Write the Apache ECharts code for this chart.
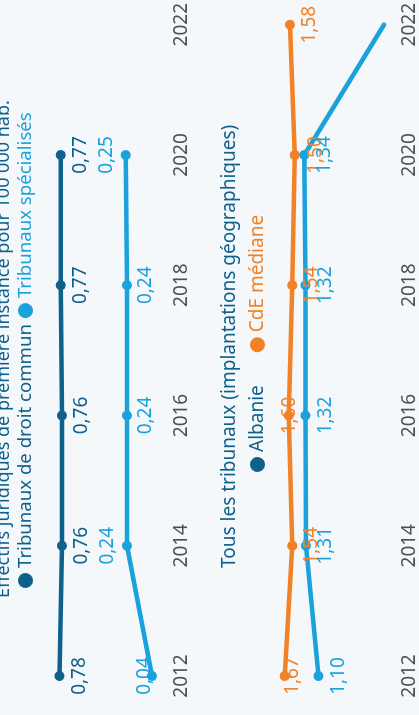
<!DOCTYPE html>
<html>
<head>
<meta charset="utf-8">
<script src="https://cdn.jsdelivr.net/npm/echarts@6/dist/echarts.min.js"></script>
<style>
html,body{margin:0;padding:0;background:#f4f8fa;overflow:hidden;}
#wrap{position:absolute;left:0;top:0;width:419px;height:715px;overflow:hidden;background:#f4f8fa;}
#chart{position:absolute;left:0;top:0;width:715px;height:419px;transform-origin:0 0;transform:translate(0px,715px) rotate(-90deg);}
</style>
</head>
<body>
<div id="wrap"><div id="chart"></div></div>
<script>
// ---- data ----
const years = ['2012', '2014', '2016', '2018', '2020', '2022'];
const droitCommun = [0.78, 0.76, 0.76, 0.77, 0.77, null];
const specialises = [0.04, 0.24, 0.24, 0.24, 0.25, null];
const albanie = [1.10, 1.31, 1.32, 1.32, 1.34, 0];
const cdeMediane = [1.67, 1.54, 1.60, 1.54, 1.50, 1.58];
const titleText = 'Effectifs juridiques de première instance pour 100 000 hab.';
const subtitleText = 'Tous les tribunaux (implantations géographiques)';
const legend1 = ['Tribunaux de droit commun', 'Tribunaux spécialisés'];
const legend2 = ['Albanie', 'CdE médiane'];

// ---- styles ----
const DARK = '#10608c';
const LIGHT = '#1ba2dc';
const ORANGE = '#f28227';
const FONT = 'Noto Sans';
const fmt = v => v.toFixed(2).replace('.', ',');

// label vertical shift (px, original orientation) per point
const darkShift = [20, 20, 20, 20, 20, 20];
const lightShift = [-7, -19, 19, 19, -19, 0];
const albShift = [20, 20, 20, 20, 20, 20];
const cdeShift = [7.5, 19, 1, 19, 21, 20];

function makeData(vals, shift, color, hideIdx) {
  return vals.map((v, i) => {
    if (v === null) return null;
    const item = {
      value: v,
      label: { show: true, position: 'inside', offset: [0, shift[i]], color: color,
               fontFamily: FONT, fontSize: 19, formatter: p => fmt(p.value) }
    };
    if (hideIdx !== undefined && hideIdx === i) {
      item.symbol = 'none';
      item.label = { show: false };
    }
    return item;
  });
}

function lineSeries(name, vals, shift, color, idx, hideIdx) {
  return {
    name: name, type: 'line', xAxisIndex: idx, yAxisIndex: idx,
    data: makeData(vals, shift, color, hideIdx),
    symbol: 'circle', symbolSize: 10, showSymbol: true,
    lineStyle: { color: color, width: 4.5, cap: 'round', join: 'round' },
    itemStyle: { color: color },
    emphasis: { disabled: true },
    connectNulls: false,
    animation: false,
    clip: false
  };
}

const chart = echarts.init(document.getElementById('chart'), null, { renderer: 'canvas', width: 715, height: 419 });

const xAxisBase = (idx, margin) => ({
  type: 'category', gridIndex: idx, data: years, boundaryGap: false,
  axisLine: { show: false }, axisTick: { show: false }, splitLine: { show: false },
  axisLabel: { color: '#505050', fontFamily: FONT, fontSize: 19, margin: margin }
});

chart.setOption({
  backgroundColor: '#f4f8fa',
  animation: false,
  title: [
    { text: titleText, left: 112, top: -10,
      textStyle: { color: DARK, fontFamily: FONT, fontSize: 18, fontWeight: 'normal' } },
    { text: subtitleText, left: 142, top: 215,
      textStyle: { color: DARK, fontFamily: FONT, fontSize: 19, fontWeight: 'normal' } }
  ],
  legend: [
    { left: 122, top: 11, icon: 'circle', itemWidth: 15, itemHeight: 15, itemGap: 6,
      selectedMode: false,
      data: [
        { name: legend1[0], itemStyle: { color: DARK }, textStyle: { color: DARK } },
        { name: legend1[1], itemStyle: { color: LIGHT }, textStyle: { color: LIGHT } }
      ],
      textStyle: { fontFamily: FONT, fontSize: 18.6 } },
    { left: 238, top: 243, icon: 'circle', itemWidth: 15, itemHeight: 15, itemGap: 33,
      selectedMode: false,
      data: [
        { name: legend2[0], itemStyle: { color: DARK }, textStyle: { color: DARK } },
        { name: legend2[1], itemStyle: { color: ORANGE }, textStyle: { color: ORANGE } }
      ],
      textStyle: { fontFamily: FONT, fontSize: 19 } }
  ],
  grid: [
    { left: 39, right: 22.7, top: 32, height: 125 },
    { left: 39, right: 22.7, top: 265, height: 120.5 }
  ],
  xAxis: [xAxisBase(0, 15), xAxisBase(1, 16)],
  yAxis: [
    { type: 'value', gridIndex: 0, min: 0, max: 1, show: false },
    { type: 'value', gridIndex: 1, min: 0, max: 2, show: false }
  ],
  series: [
    lineSeries(legend1[0], droitCommun, darkShift, DARK, 0),
    lineSeries(legend1[1], specialises, lightShift, LIGHT, 0),
    lineSeries(legend2[1], cdeMediane, cdeShift, ORANGE, 1),
    lineSeries(legend2[0], albanie, albShift, LIGHT, 1, 5)
  ]
});
</script>
</body>
</html>
